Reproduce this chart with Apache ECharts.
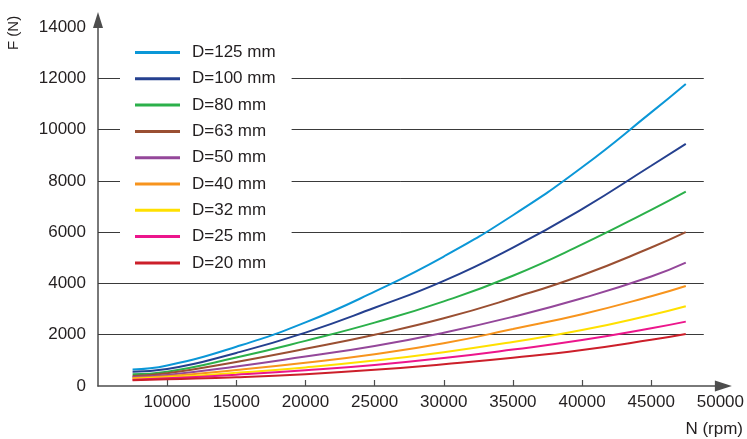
<!DOCTYPE html>
<html>
<head>
<meta charset="utf-8">
<script src="https://cdn.jsdelivr.net/npm/echarts@6/dist/echarts.min.js"></script>
<style>
html, body {margin:0; padding:0; background:#fff;}
#chart {width:747px; height:439px;}
</style>
</head>
<body>
<div id="chart"></div>
<script>
// rpm values where the curves were read
var nValues = [7500, 10000, 15000, 20000, 25000, 30000, 35000, 40000, 45000, 47500];

// F (N) per diameter
var f125 = [645, 800, 1530, 2480, 3680, 5050, 6660, 8530, 10670, 11780];
var f100 = [558, 663, 1290, 2080, 3050, 4100, 5400, 6900, 8590, 9440];
var f80 = [455, 558, 1110, 1760, 2470, 3300, 4300, 5520, 6870, 7580];
var f63 = [390, 495, 940, 1450, 2000, 2640, 3430, 4320, 5400, 6000];
var f50 = [350, 429, 760, 1150, 1560, 2080, 2700, 3420, 4270, 4810];
var f40 = [315, 378, 625, 910, 1240, 1665, 2220, 2800, 3500, 3900];
var f32 = [286, 339, 515, 725, 990, 1320, 1720, 2180, 2770, 3110];
var f25 = [247, 300, 440, 610, 820, 1090, 1420, 1790, 2250, 2510];
var f20 = [221, 261, 340, 460, 630, 850, 1100, 1400, 1800, 2030];

var seriesNames = ['D=125 mm', 'D=100 mm', 'D=80 mm', 'D=63 mm', 'D=50 mm', 'D=40 mm', 'D=32 mm', 'D=25 mm', 'D=20 mm'];
var seriesData = [f125, f100, f80, f63, f50, f40, f32, f25, f20];
var colors = ['#0b97d7', '#25408f', '#2bb04a', '#9a4f32', '#94479a', '#f7941d', '#ffe000', '#ec168c', '#cc1f2a'];

var xLabelValues = [10000, 15000, 20000, 25000, 30000, 35000, 40000, 45000, 50000];
var xTickValues = [10000, 15000, 20000, 25000, 30000, 35000, 40000, 45000];
var gridValues = [2000, 4000, 6000, 8000, 10000, 12000];
var xMin = 5000, xMax = 50000, gridEnd = 48800;

var chart = echarts.init(document.getElementById('chart'));

function plain(v){ return String(v); }

var series = [];
// horizontal grid lines (stop short of the axis end, as in the original)
series.push({
    name: 'grid',
    type: 'line',
    data: [],
    z: 1,
    silent: true,
    markLine: {
        silent: true,
        symbol: 'none',
        z: 1,
        label: {show: false},
        lineStyle: {color: '#3a3a3a', width: 1, type: 'solid'},
        data: gridValues.map(function(v){
            return [{coord: [xMin, v]}, {coord: [gridEnd, v]}];
        })
    }
});
for (var i = 0; i < seriesNames.length; i++) {
    series.push({
        name: seriesNames[i],
        type: 'line',
        smooth: true,
        symbol: 'none',
        z: 2,
        lineStyle: {width: 2, color: colors[i]},
        itemStyle: {color: colors[i]},
        data: nValues.map(function(n, j){ return [n, seriesData[i][j]]; })
    });
}

var option = {
    animation: false,
    grid: {left: 98, right: 25, top: 27, bottom: 53},
    legend: {
        data: seriesNames,
        orient: 'vertical',
        left: 120,
        top: 40,
        z: 20,
        padding: [4, 16, 4, 15],
        backgroundColor: '#fff',
        icon: 'rect',
        itemWidth: 45,
        itemHeight: 3,
        itemGap: 9.3,
        selectedMode: false,
        textStyle: {
            fontFamily: 'Liberation Sans',
            fontSize: 17,
            lineHeight: 17,
            color: '#231f20',
            padding: [0, 0, 0, 7]
        }
    },
    xAxis: {
        type: 'value',
        min: xMin,
        max: xMax,
        interval: 5000,
        axisLine: {
            symbol: ['none', 'triangle'],
            symbolSize: [11, 17],
            symbolOffset: [0, 3],
            lineStyle: {color: '#4d4d4d', width: 1.5}
        },
        axisTick: {
            inside: true,
            length: 6,
            customValues: xTickValues,
            lineStyle: {color: '#4d4d4d', width: 1.2}
        },
        axisLabel: {
            customValues: xLabelValues,
            formatter: plain,
            fontFamily: 'Liberation Sans',
            fontSize: 17,
            color: '#231f20',
            margin: 8
        },
        splitLine: {show: false}
    },
    yAxis: {
        type: 'value',
        min: 0,
        max: 14000,
        interval: 2000,
        axisLine: {
            show: true,
            symbol: ['none', 'triangle'],
            symbolSize: [10, 16],
            symbolOffset: [0, 7],
            lineStyle: {color: '#4d4d4d', width: 1.5}
        },
        axisTick: {show: false},
        axisLabel: {
            formatter: plain,
            fontFamily: 'Liberation Sans',
            fontSize: 17,
            color: '#231f20',
            margin: 12
        },
        splitLine: {show: false}
    },
    graphic: [
        {
            type: 'text',
            x: 14,
            y: 50,
            rotation: Math.PI / 2,
            style: {
                text: 'F (N)',
                fontFamily: 'Liberation Sans',
                fontSize: 15,
                fill: '#231f20',
                textAlign: 'left',
                textVerticalAlign: 'middle'
            }
        },
        {
            type: 'text',
            right: 4,
            top: 421,
            style: {
                text: 'N (rpm)',
                fontFamily: 'Liberation Sans',
                fontSize: 17,
                fill: '#231f20'
            }
        }
    ],
    series: series
};
chart.setOption(option);
</script>
</body>
</html>
